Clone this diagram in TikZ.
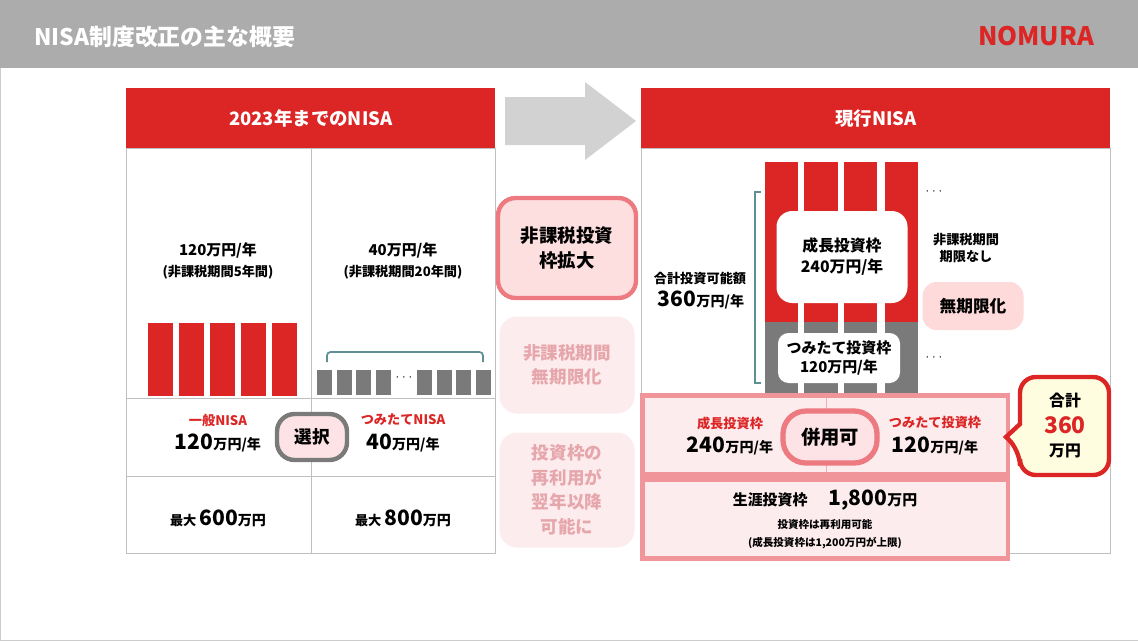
\documentclass[tikz,border=0pt]{standalone}
\usepackage{fontspec}
\setmainfont{Noto Sans CJK JP}[BoldFont={* Black}]
\usetikzlibrary{positioning,shapes.callouts}
\definecolor{nred}{HTML}{DC2626}
\definecolor{pinkline}{HTML}{EC7A80}
\definecolor{pinkfill}{HTML}{FDECEE}
\definecolor{fadetxt}{HTML}{E6A7AC}
\definecolor{barg}{HTML}{7A7A7A}
\definecolor{teal}{HTML}{5E8F92}

\begin{document}
\begin{tikzpicture}[x={(0.02cm,0cm)}, y={(0cm,-0.02cm)}, font=\bfseries,
  hd/.style={fill=nred, text=white, font=\bfseries\fontsize{10.5}{12}\selectfont},
  txt/.style={font=\bfseries\fontsize{7.5}{9}\selectfont, align=center},
  big/.style={font=\bfseries\fontsize{12}{14}\selectfont},
  pill/.style={rounded corners=10pt, line width=2.5pt, fill=pinkfill!80!pink, font=\bfseries\fontsize{10}{12}\selectfont},
  redbar/.style={fill=nred},
  graybar/.style={fill=barg}]

 \useasboundingbox (0,0) rectangle (1138,640);
 \draw[gray!40, fill=white] (0,0) rectangle (1138,640);

 %%%%%%%%%% Title %%%%%%%%%%
 \fill[gray!65] (0,0) rectangle (1138,68);
 \node[anchor=west, text=white, font=\bfseries\fontsize{13}{14}\selectfont] (title) at (28,37) {NISA制度改正の主な概要};
 \node[text=nred, font=\bfseries\fontsize{14.5}{16}\selectfont] (logo) at (1036,36) {NOMURA};

 %%%%%%%%%% Left panel %%%%%%%%%%
 \draw[gray!50] (126,148) rectangle (495,553);
 \draw[gray!50] (311,148) -- (311,553);
 \draw[gray!50] (126,398) -- (495,398);
 \draw[gray!50] (126,476) -- (495,476);
 \node[hd, minimum width=369*0.02cm, minimum height=60*0.02cm, anchor=north west] (oldhd) at (126,88) {2023年までのNISA};

 \node[txt, font=\bfseries\fontsize{8.5}{10}\selectfont] (ipa) at (218,250) {120万円/年};
 \node[txt] (ipb) at (218,272) {(非課税期間5年間)};
 \node[txt, font=\bfseries\fontsize{8.5}{10}\selectfont] (tma) at (403,250) {40万円/年};
 \node[txt] (tmb) at (403,272) {(非課税期間20年間)};

 \foreach \i in {0,...,4}
   \fill[redbar] (148+\i*31,323) rectangle (173+\i*31,396);
 \foreach \i in {0,...,3} {
   \fill[graybar] (317+\i*19.5,370) rectangle (332+\i*19.5,395);
   \fill[graybar] (417+\i*19.5,370) rectangle (432+\i*19.5,395);
 }
 \node[font=\fontsize{7}{8}\selectfont] (gdots) at (404,378) {$\cdots$};
 \draw[teal, line width=1pt, rounded corners=2pt] (327,362) -- (327,352) -- (483,352) -- (483,362);

 \node[txt, text=nred] (ippan) at (218,420) {一般NISA};
 \node[big] (ippanv) at (218,443) {120{\fontsize{8}{9}\selectfont 万円/年}};
 \node[txt, text=nred] (tsumi) at (403,420) {つみたてNISA};
 \node[big] (tsumiv) at (403,443) {40{\fontsize{8}{9}\selectfont 万円/年}};
 \node[pill, draw=barg, minimum width=70*0.02cm, minimum height=46*0.02cm] (sentaku) at (312,437) {選択};

 \node[big] (max1) at (218,518) {{\fontsize{7.5}{9}\selectfont 最大 }600{\fontsize{8}{9}\selectfont 万円}};
 \node[big] (max2) at (403,518) {{\fontsize{7.5}{9}\selectfont 最大 }800{\fontsize{8}{9}\selectfont 万円}};

 %%%%%%%%%% Arrow %%%%%%%%%%
 \fill[gray!35] (505,97) -- (585,97) -- (585,82) -- (636,121) -- (585,160) -- (585,145) -- (505,145) -- cycle;

 %%%%%%%%%% Middle boxes %%%%%%%%%%
 \node[pill, draw=pinkline, fill=pinkfill!70!pink, minimum width=138*0.02cm, minimum height=100*0.02cm, font=\bfseries\fontsize{10.5}{14}\selectfont, align=center] (kakudai) at (567,248) {非課税投資\\枠拡大};
 \node[rounded corners=10pt, fill=pinkfill, text=fadetxt, minimum width=135*0.02cm, minimum height=97*0.02cm, font=\bfseries\fontsize{10}{14}\selectfont, align=center] (mukigen1) at (567,365) {非課税期間\\無期限化};
 \node[rounded corners=10pt, fill=pinkfill, text=fadetxt, minimum width=135*0.02cm, minimum height=115*0.02cm, font=\bfseries\fontsize{10}{14}\selectfont, align=center] (sairiyo) at (567,490) {投資枠の\\再利用が\\翌年以降\\可能に};

 %%%%%%%%%% Right panel %%%%%%%%%%
 \draw[gray!50] (641,148) rectangle (1110,553);
 \node[hd, minimum width=469*0.02cm, minimum height=60*0.02cm, anchor=north west] (newhd) at (641,88) {現行NISA};

 \foreach \x/\w in {765/33,804/34,844/33,885/33} {
   \fill[redbar] (\x,162) rectangle (\x+\w,322);
   \fill[graybar] (\x,322) rectangle (\x+\w,393);
 }
 \node[fill=white, rounded corners=9pt, minimum width=131*0.02cm, minimum height=92*0.02cm, align=center, font=\bfseries\fontsize{9}{12}\selectfont] (seicho) at (842,257) {成長投資枠\\240万円/年};
 \node[fill=white, rounded corners=6pt, minimum width=122*0.02cm, minimum height=50*0.02cm, align=center, font=\bfseries\fontsize{8.5}{11}\selectfont] (tsumitate) at (839,358) {つみたて投資枠\\120万円/年};
 \node[font=\fontsize{7}{8}\selectfont] (rdots1) at (934,192) {$\cdots$};
 \node[font=\fontsize{7}{8}\selectfont] (rdots2) at (934,358) {$\cdots$};
 \draw[teal, line width=0.6pt] (761,192) -- (755,192) -- (755,383) -- (761,383);
 \node[txt] (gokei) at (700,278) {合計投資可能額};
 \node[big] (gokeiv) at (701,300) {360{\fontsize{8}{9}\selectfont 万円/年}};
 \node[txt, align=center, font=\bfseries\fontsize{7.5}{10}\selectfont] (kigen) at (966,248) {非課税期間\\期限なし};
 \node[rounded corners=8pt, fill=pinkfill!60!pink, minimum width=101*0.02cm, minimum height=48*0.02cm, font=\bfseries\fontsize{9.5}{11}\selectfont] (mukigen2) at (973,306) {無期限化};

 %%%%%%%%%% Bottom right %%%%%%%%%%
 \fill[pinkline!80] (640,393) rectangle (1010,561);
 \fill[pinkfill] (645,398) rectangle (1006,472);
 \draw[pinkline!60] (826,398) -- (826,472);
 \fill[pinkfill] (645,482) rectangle (1006,556);
 \node[txt, text=nred] (seicho2) at (730,423) {成長投資枠};
 \node[big] (seicho2v) at (730,446) {240{\fontsize{8}{9}\selectfont 万円/年}};
 \node[txt, text=nred] (tsumi2) at (935,423) {つみたて投資枠};
 \node[big] (tsumi2v) at (935,446) {120{\fontsize{8}{9}\selectfont 万円/年}};
 \node[pill, draw=pinkline, line width=3pt, rounded corners=13pt, minimum width=94*0.02cm, minimum height=52*0.02cm, font=\bfseries\fontsize{11}{12}\selectfont] (heiyo) at (830,437) {併用可};
 \node[big] (shogai) at (825,500) {{\fontsize{8.5}{10}\selectfont 生涯投資枠}\quad 1,800{\fontsize{8.5}{10}\selectfont 万円}};
 \node[txt, font=\bfseries\fontsize{6}{7}\selectfont] (sai) at (825,524) {投資枠は再利用可能};
 \node[txt, font=\bfseries\fontsize{6}{7}\selectfont] (jogen) at (825,543) {(成長投資枠は1,200万円が上限)};

 %%%%%%%%%% Callout %%%%%%%%%%
 \draw[nred, line width=2.5pt, fill=yellow!12, rounded corners=9pt] (1020,377) -- (1109,377) -- (1109,475) -- (1020,475) -- (1020,450) [sharp corners] -- (1006,437) -- (1020,424) [rounded corners=9pt] -- cycle;
 \node[txt, font=\bfseries\fontsize{9}{10}\selectfont] (total) at (1065,401) {合計};
 \node[text=nred, font=\bfseries\fontsize{13}{14}\selectfont] (totalv) at (1065,425) {360};
 \node[txt, font=\bfseries\fontsize{9}{10}\selectfont] (totalu) at (1065,451) {万円};
\end{tikzpicture}
\end{document}
